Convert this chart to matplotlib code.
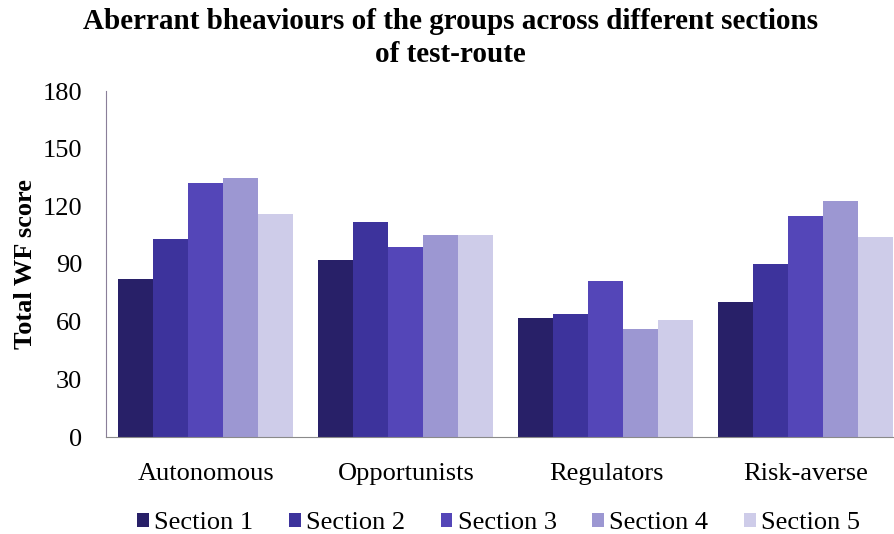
import numpy as np
import matplotlib.pyplot as plt

plt.rcParams['font.family'] = ['Liberation Serif', 'DejaVu Serif']

groups = ['Autonomous', 'Opportunists', 'Regulators', 'Risk-averse']
sections = ['Section 1', 'Section 2', 'Section 3', 'Section 4', 'Section 5']
section1 = [82, 92, 62, 70]
section2 = [103, 112, 64, 90]
section3 = [132, 99, 81, 115]
section4 = [135, 105, 56, 123]
section5 = [116, 105, 61, 104]
series = [section1, section2, section3, section4, section5]
colors = ['#282068', '#3d339c', '#5446b8', '#9c97d2', '#cecce9']

fig = plt.figure(figsize=(8.95, 5.34), dpi=100)
ax = fig.add_axes([106/895, 97/534, 800/895, 346/534])

x = np.arange(len(groups))
w = 0.175
for i, vals in enumerate(series):
    ax.bar(x + (i - 2) * w, vals, width=w, color=colors[i], label=sections[i])

ax.set_xlim(-0.5, 3.5)
ax.set_ylim(0, 180)
ax.set_yticks(range(0, 181, 30))
ax.set_xticks(x)
ax.set_xticklabels(groups)
ax.tick_params(axis='both', length=0, labelsize=19)
ax.tick_params(axis='x', pad=19)
ax.tick_params(axis='y', pad=17)
ax.spines['top'].set_visible(False)
ax.spines['right'].set_visible(False)
ax.spines['left'].set_color('#8a7f99')
ax.spines['bottom'].set_color('#8a8a8a')

ax.set_ylabel('Total WF score', fontsize=19, fontweight='bold', labelpad=4)

fig.text(0.503, 0.985, 'Aberrant bheaviours of the groups across different sections\nof test-route',
         ha='center', va='top', fontsize=21, fontweight='bold', linespacing=1.3)

fig.legend(loc='lower center', bbox_to_anchor=(0.557, -0.045), ncol=5, frameon=False,
           fontsize=19, handlelength=0.45, handleheight=0.45, handletextpad=0.2,
           columnspacing=1.35)

fig.savefig('out.png', dpi=100)
